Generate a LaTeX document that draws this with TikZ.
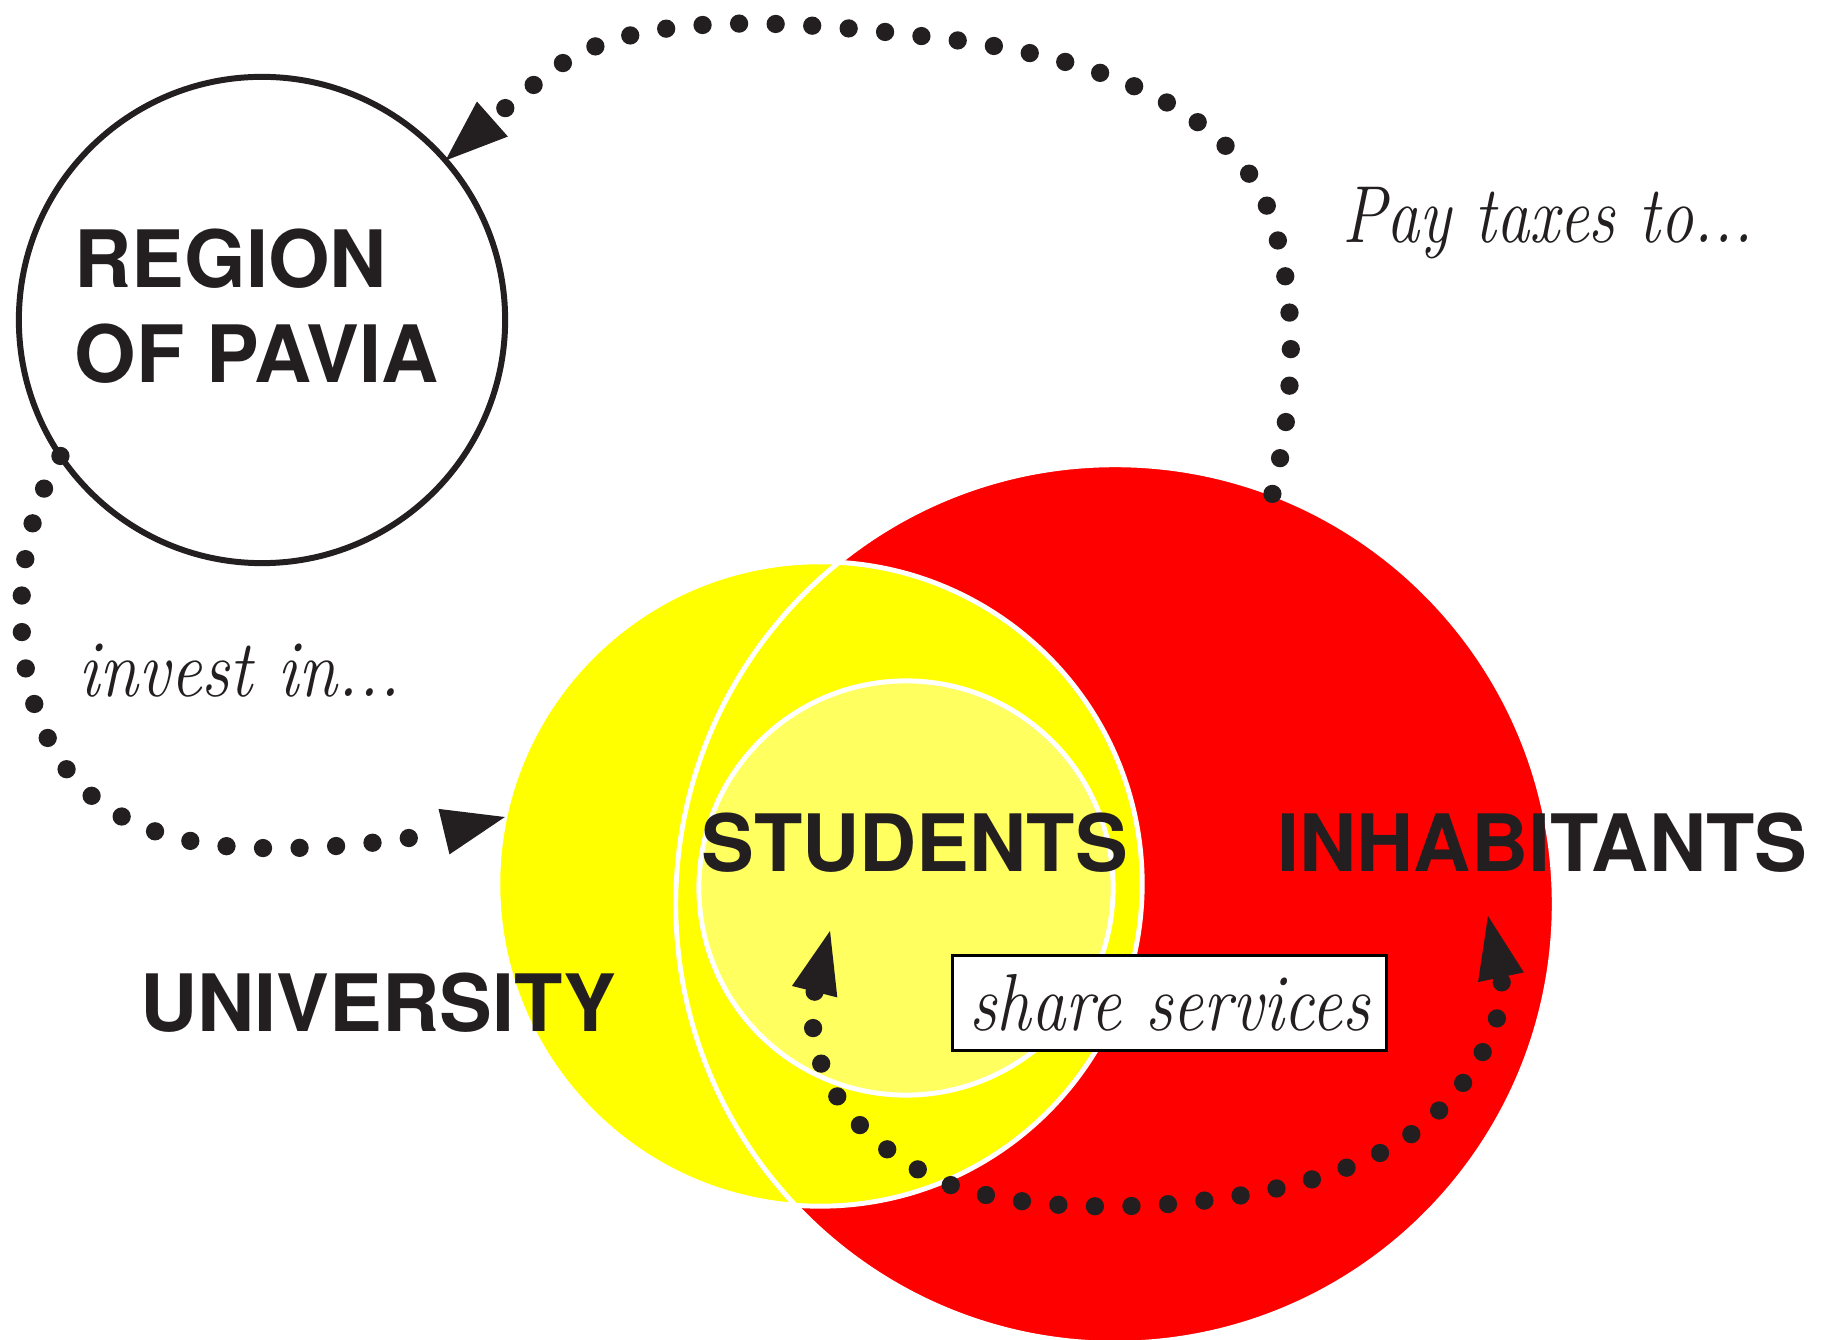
\documentclass[tikz,border=0pt]{standalone}
\usepackage{fontspec}
\usepackage{graphicx}
\usetikzlibrary{arrows.meta}
\newfontfamily\headfont{TeX Gyre Heros}
\definecolor{ink}{HTML}{231F20}
\definecolor{unired}{HTML}{FF0000}
\definecolor{uniyellow}{HTML}{FFFF00}
\definecolor{lightyellow}{HTML}{FFFF60}
\tikzset{
	blob/.style={circle, inner sep=0pt, outer sep=0pt},
	ring/.style={draw=white, line width=1.4pt},
	heading/.style={font=\headfont\bfseries\fontsize{22.5}{27}\selectfont, text=ink, inner sep=0pt, anchor=base west},
	remark/.style={font=\fontsize{23}{27}\selectfont\itshape, text=ink, inner sep=0pt},
	dotline/.style={draw=ink, line width=5.2pt, line cap=round, dash pattern=on 0pt off 10.4pt},
	>={Triangle[length=17.8pt, width=13.3pt, line width=0pt]},
}
\begin{document}
\begin{tikzpicture}[x=0.01cm, y=-0.01cm]
	\useasboundingbox (0,0) rectangle (1821,1340);
	\node[blob, fill=unired, minimum size=8.78cm] (inhab) at (1115,904) {};
	\node[blob, fill=uniyellow, minimum size=6.44cm] (univ) at (820,884) {};
	\draw[ring] (inhab.center) circle[radius=4.39cm];
	\draw[ring] (univ.center) circle[radius=3.22cm];
	\node[blob, fill=lightyellow, draw=white, line width=1.4pt, minimum size=4.14cm] (stud) at (906,888) {};
	\node[blob, draw=ink, line width=1.7pt, minimum size=4.86cm] (region) at (262,320) {};
	\node[heading] (regtop) at (74,288) {REGION};
	\node[heading] (regbot) at (74,383) {OF PAVIA};
	\node[heading] (studtext) at (701,871) {STUDENTS};
	\node[heading] (inhabtext) at (1277,871) {INHABITANTS};
	\node[heading] (univtext) at (140,1031) {UNIVERSITY};
	\node[remark, anchor=base west] (taxes) at (1342,243) {\scalebox{0.82}[1]{Pay taxes to...}};
	\node[remark, anchor=base west] (invest) at (78,697) {\scalebox{0.87}[1]{invest in...}};
	\node[remark, draw=black, line width=0.85pt, fill=white, minimum width=4.33cm, minimum height=0.94cm] (share) at (1169.5,1003) {\scalebox{0.85}[1]{share services}};
	\draw[dotline, ->] (inhab.69) .. controls (1295,400) and (1300,300) .. (1269,211)
		.. controls (1230,110) and (1100,55) .. (929,37)
		.. controls (790,20) and (640,10) .. (560,65)
		.. controls (525,90) and (480,130) .. (region.41);
	\draw[dotline, ->] (region.214) .. controls (15,530) and (10,650) .. (41,722)
		.. controls (70,800) and (140,846) .. (260,848)
		.. controls (350,850) and (430,835) .. (univ.168);
	\coordinate (leftend) at (830,931);
	\coordinate (rightend) at (1488,916);
	\draw[dotline, <->] (leftend) .. controls (810,1010) and (800,1110) .. (932,1177)
		.. controls (1020,1222) and (1250,1215) .. (1369,1158)
		.. controls (1460,1120) and (1510,1020) .. (rightend);
\end{tikzpicture}
\end{document}
